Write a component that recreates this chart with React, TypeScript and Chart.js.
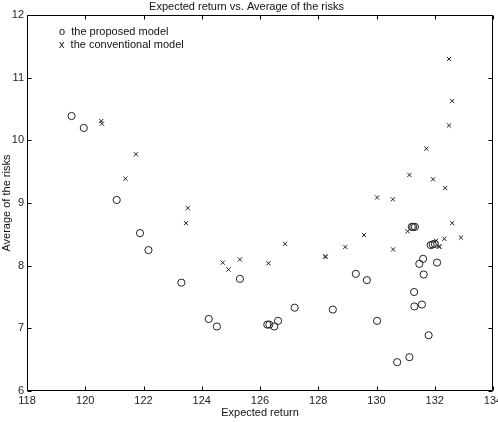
import React, { useEffect, useRef } from "react";
import { Chart, registerables } from "chart.js";

Chart.register(...registerables);

const proposedX = [
  119.53, 119.95, 121.08, 121.88, 122.17, 123.3, 124.24, 124.52, 125.31, 126.25,
  126.32, 126.49, 126.62, 127.19, 128.5, 129.29, 129.67, 130.02, 130.71, 131.13,
  131.21, 131.26, 131.32, 131.29, 131.3, 131.47, 131.56, 131.6, 131.62, 131.79,
  131.86, 131.93, 132.0, 132.08,
];
const proposedY = [
  10.39, 10.2, 9.05, 8.52, 8.25, 7.73, 7.15, 7.03, 7.79, 7.06,
  7.06, 7.03, 7.12, 7.33, 7.3, 7.87, 7.77, 7.12, 6.46, 6.54,
  8.62, 8.62, 8.62, 7.58, 7.35, 8.03, 7.38, 8.11, 7.86, 6.89,
  8.33, 8.34, 8.35, 8.05,
];
const conventionalX = [
  120.55, 120.57, 121.38, 121.74, 123.46, 123.52, 124.72, 124.92, 125.31, 126.29,
  126.86, 128.24, 128.25, 128.93, 129.57, 130.02, 130.56, 130.57, 131.07, 131.13,
  131.71, 131.94, 132.05, 132.15, 132.16, 132.33, 132.36, 132.49, 132.49, 132.6,
  132.6, 132.9,
];
const conventionalY = [
  10.31, 10.27, 9.39, 9.78, 8.68, 8.92, 8.05, 7.94, 8.1, 8.04,
  8.35, 8.15, 8.14, 8.3, 8.49, 9.09, 9.06, 8.26, 8.55, 9.45,
  9.87, 9.38, 8.4, 8.31, 8.3, 8.43, 9.24, 10.24, 11.3, 10.63,
  8.68, 8.45,
];
const legendLabels = ["o  the proposed model", "x  the conventional model"];
const titleText = "Expected return vs. Average of the risks";
const xTitle = "Expected return";
const yTitle = "Average of the risks";

const FONT = "'Liberation Sans', Arial, Helvetica, sans-serif";

const framePlugin = {
  id: "frame",
  afterDatasetsDraw(chart: any) {
    const { ctx, chartArea } = chart;
    const x = chart.scales.x;
    const y = chart.scales.y;
    const l = Math.round(chartArea.left) + 0.5;
    const r = Math.round(chartArea.right) - 0.5;
    const t = Math.round(chartArea.top) + 0.5;
    const b = Math.round(chartArea.bottom) - 0.5;
    ctx.save();
    ctx.strokeStyle = "#000";
    ctx.lineWidth = 1;
    ctx.beginPath();
    ctx.rect(l, t, r - l, b - t);
    const len = 4;
    x.ticks.forEach((tk: any) => {
      const px = Math.round(x.getPixelForValue(tk.value)) + 0.5;
      ctx.moveTo(px, b);
      ctx.lineTo(px, b - len);
      ctx.moveTo(px, t);
      ctx.lineTo(px, t + len);
    });
    y.ticks.forEach((tk: any) => {
      const py = Math.round(y.getPixelForValue(tk.value)) + 0.5;
      ctx.moveTo(l, py);
      ctx.lineTo(l + len, py);
      ctx.moveTo(r, py);
      ctx.lineTo(r - len, py);
    });
    ctx.stroke();
    ctx.fillStyle = "#111";
    ctx.font = `11px ${FONT}`;
    ctx.textBaseline = "middle";
    ctx.textAlign = "left";
    ctx.fillText(legendLabels[0], chartArea.left + 32, chartArea.top + 17);
    ctx.fillText(legendLabels[1], chartArea.left + 32, chartArea.top + 30);
    ctx.restore();
  },
};

export default function App() {
  const ref = useRef<HTMLCanvasElement | null>(null);
  useEffect(() => {
    document.body.style.margin = "0";
    if (!ref.current) return;
    const chart = new Chart(ref.current, {
      type: "scatter",
      data: {
        datasets: [
          {
            label: "the proposed model",
            data: proposedX.map((v, i) => ({ x: v, y: proposedY[i] })),
            pointStyle: "circle",
            pointRadius: 3.6,
            borderColor: "#222",
            backgroundColor: "rgba(0,0,0,0)",
            borderWidth: 1,
          },
          {
            label: "the conventional model",
            data: conventionalX.map((v, i) => ({ x: v, y: conventionalY[i] })),
            pointStyle: "crossRot",
            pointRadius: 3,
            borderColor: "#222",
            backgroundColor: "rgba(0,0,0,0)",
            borderWidth: 1,
          },
        ],
      },
      options: {
        animation: false,
        responsive: false,
        events: [],
        layout: { padding: { top: 0, right: 5, left: 0, bottom: 0 } },
        plugins: {
          legend: { display: false },
          tooltip: { enabled: false },
          title: {
            display: true,
            text: titleText,
            color: "#111",
            font: { family: FONT, size: 11, weight: "normal" },
            padding: { top: 0, bottom: 2 },
          },
        },
        scales: {
          x: {
            type: "linear",
            min: 118,
            max: 134,
            grid: { display: false, drawTicks: false, tickLength: 0 },
            border: { display: false },
            ticks: {
              stepSize: 2,
              padding: 3,
              color: "#222",
              maxRotation: 0,
              font: { family: FONT, size: 11 },
            },
            title: {
              display: true,
              text: xTitle,
              color: "#111",
              font: { family: FONT, size: 11 },
              padding: { top: 0, bottom: 2 },
            },
            afterFit: (s: any) => {
              s.height = 31;
              s.paddingLeft = 0;
              s.paddingRight = 0;
            },
          },
          y: {
            type: "linear",
            min: 6,
            max: 12,
            grid: { display: false, drawTicks: false, tickLength: 0 },
            border: { display: false },
            ticks: {
              stepSize: 1,
              padding: 3,
              color: "#222",
              font: { family: FONT, size: 11 },
            },
            title: {
              display: true,
              text: yTitle,
              color: "#111",
              font: { family: FONT, size: 11 },
              padding: { top: 0, bottom: 0 },
            },
            afterFit: (s: any) => {
              s.width = 27;
              s.paddingTop = 0;
              s.paddingBottom = 0;
            },
          },
        },
      },
      plugins: [framePlugin],
    } as any);
    return () => chart.destroy();
  }, []);
  return (
    <div style={{ width: 498, height: 422, background: "#fff" }}>
      <canvas ref={ref} width={498} height={422} />
    </div>
  );
}
